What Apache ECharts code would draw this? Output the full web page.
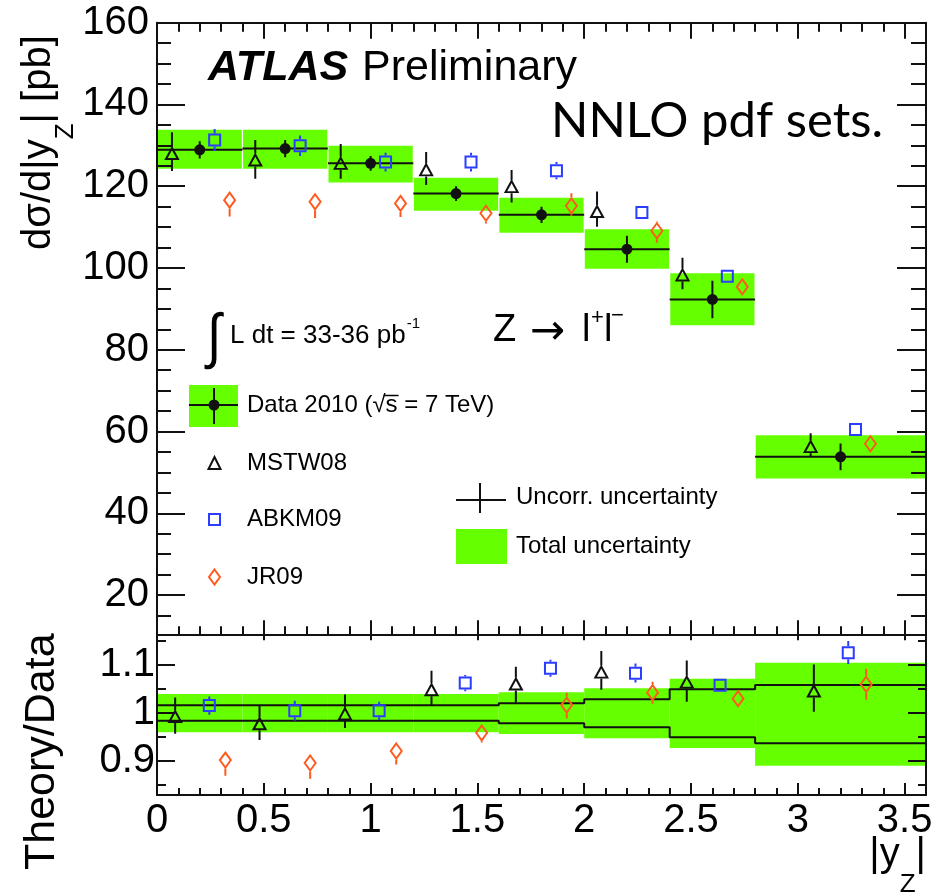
<!DOCTYPE html>
<html>
<head>
<meta charset="utf-8">
<title>Z rapidity cross section</title>
<script src="https://cdn.jsdelivr.net/npm/echarts@6/dist/echarts.min.js"></script>
<style>
  html, body { margin: 0; padding: 0; background: #fff; }
  #chart { width: 944px; height: 893px; }
</style>
</head>
<body>
<div id="chart"></div>
<script>
// ---- bins in |y_Z| ----
const binLow  = [0.0, 0.4, 0.8, 1.2, 1.6, 2.0, 2.4, 2.8];
const binHigh = [0.4, 0.8, 1.2, 1.6, 2.0, 2.4, 2.8, 3.6];

// ---- measured dσ/d|y_Z| [pb] ----
const dataXsec    = [128.9, 129.2, 125.6, 118.2, 113.0, 104.6, 92.3, 53.8];
const dataUncorr  = [2.1, 2.1, 1.8, 1.8, 2.0, 3.3, 4.6, 3.3];
const dataTotalLo = [124.3, 124.3, 120.9, 114.0, 108.6, 99.8, 86.0, 48.5];
const dataTotalHi = [133.8, 133.8, 129.9, 122.1, 117.2, 109.5, 98.7, 59.1];

// ---- NNLO predictions, cross section panel ----
const mstwPos  = [0.07, 0.46, 0.86, 1.26, 1.66, 2.06, 2.46, 3.06];
const mstwXsec = [128.0, 126.4, 125.6, 124.0, 119.9, 113.8, 98.3, 56.3];
const mstwHi   = [133.2, 131.3, 130.3, 128.4, 124.0, 118.7, 102.5, 59.6];
const mstwLo   = [123.7, 121.8, 121.8, 120.3, 116.0, 110.1, 94.8, 53.8];

const abkmPos  = [0.27, 0.67, 1.07, 1.47, 1.87, 2.27, 2.67, 3.27];
const abkmXsec = [131.3, 129.9, 125.9, 125.9, 123.8, 113.6, 98.0, 60.5];
const abkmHi   = [134.0, 132.4, 128.2, 128.2, 125.9, 115.1, 99.5, 61.8];
const abkmLo   = [128.6, 127.4, 123.6, 123.6, 121.7, 112.1, 96.5, 59.2];

const jrPos  = [0.34, 0.74, 1.14, 1.54, 1.94, 2.34, 2.74, 3.34];
const jrXsec = [116.6, 116.2, 115.8, 113.4, 115.2, 109.1, 95.4, 57.0];
const jrHi   = [118.1, 117.7, 117.3, 114.9, 118.3, 111.4, 97.4, 59.0];
const jrLo   = [112.6, 112.2, 112.5, 110.9, 112.8, 106.2, 93.4, 55.0];

// ---- Theory/Data ratio panel ----
const ratioTotalHi = [1.039, 1.039, 1.039, 1.039, 1.0426, 1.051, 1.071, 1.1047];
const ratioTotalLo = [0.959, 0.959, 0.959, 0.959, 0.9557, 0.9467, 0.9265, 0.889];
const ratioUncorrHi = [1.0157, 1.0157, 1.0157, 1.0157, 1.0199, 1.028, 1.049, 1.058];
const ratioUncorrLo = [0.9835, 0.9835, 0.9835, 0.9835, 0.978, 0.9697, 0.9488, 0.936];

const mstwRatioPos = [0.085, 0.48, 0.88, 1.285, 1.68, 2.08, 2.48, 3.075];
const mstwRatio    = [0.992, 0.977, 0.9975, 1.048, 1.060, 1.085, 1.064, 1.0455];
const mstwRatioHi  = [1.032, 1.014, 1.038, 1.088, 1.096, 1.129, 1.109, 1.101];
const mstwRatioLo  = [0.956, 0.943, 0.968, 1.016, 1.021, 1.048, 1.023, 1.002];

const abkmRatioPos = [0.245, 0.645, 1.04, 1.443, 1.842, 2.24, 2.636, 3.236];
const abkmRatio    = [1.015, 1.004, 1.004, 1.062, 1.093, 1.0826, 1.0575, 1.1256];
const abkmRatioHi  = [1.034, 1.025, 1.023, 1.079, 1.111, 1.103, 1.070, 1.150];
const abkmRatioLo  = [0.996, 0.983, 0.985, 1.045, 1.075, 1.063, 1.045, 1.102];

const jrRatioPos = [0.32, 0.717, 1.12, 1.52, 1.918, 2.32, 2.72, 3.32];
const jrRatio    = [0.901, 0.895, 0.920, 0.958, 1.016, 1.042, 1.0295, 1.0596];
const jrRatioHi  = [0.913, 0.907, 0.932, 0.970, 1.042, 1.065, 1.045, 1.092];
const jrRatioLo  = [0.868, 0.862, 0.892, 0.938, 0.988, 1.019, 1.015, 1.027];

// ---- axis ticks and labels ----
const xMajorTicks = [0, 0.5, 1, 1.5, 2, 2.5, 3, 3.5];
const xMinorTicks = [0.1, 0.2, 0.3, 0.4, 0.6, 0.7, 0.8, 0.9, 1.1, 1.2, 1.3, 1.4,
                     1.6, 1.7, 1.8, 1.9, 2.1, 2.2, 2.3, 2.4, 2.6, 2.7, 2.8, 2.9,
                     3.1, 3.2, 3.3, 3.4];
const xTickLabels = [0, 0.5, 1, 1.5, 2, 2.5, 3, 3.5];
const xsecMajorTicks = [20, 40, 60, 80, 100, 120, 140, 160];
const xsecMinorTicks = [15, 25, 30, 35, 45, 50, 55, 65, 70, 75, 85, 90, 95,
                        105, 110, 115, 125, 130, 135, 145, 150, 155];
const xsecTickLabels = [20, 40, 60, 80, 100, 120, 140, 160];
const ratioMajorTicks = [0.9, 1.0, 1.1];
const ratioMinorTicks = [0.85, 0.95, 1.05, 1.15];
const ratioTickLabels = [0.9, 1.0, 1.1];

// ---- styling ----
const INK = '#111';
const GREEN = '#66ff00';
const BLUE = '#2b3dff';
const ORANGE = '#ff5a1e';
const SANS = '"Liberation Sans", Arial, Helvetica, sans-serif';

const X_RANGE = [0, 3.6];
const XSEC_RANGE = [10.4, 160];
const RATIO_RANGE = [0.828, 1.164];

// one axis = one side of a frame; separate axes carry the short minor ticks
function axis(o) {
  return {
    type: 'value', gridIndex: o.grid, position: o.pos,
    min: o.range[0], max: o.range[1],
    silent: true, z: 8,
    splitLine: { show: false },
    minorTick: { show: false },
    minorSplitLine: { show: false },
    axisPointer: { show: false },
    axisLine: { show: !!o.line, onZero: false, lineStyle: { color: INK, width: 2 } },
    axisTick: { show: true, inside: true, length: o.len, customValues: o.ticks,
                lineStyle: { color: INK, width: 2 } },
    axisLabel: o.labels
      ? { show: true, customValues: o.labels, color: '#000', fontFamily: SANS,
          fontSize: 40, margin: o.margin }
      : { show: false }
  };
}

const xAxes = [
  axis({ grid: 0, pos: 'bottom', range: X_RANGE, ticks: xMajorTicks, len: 14, line: true }), // 0
  axis({ grid: 0, pos: 'bottom', range: X_RANGE, ticks: xMinorTicks, len: 8 }),               // 1
  axis({ grid: 0, pos: 'top', range: X_RANGE, ticks: xMajorTicks, len: 16, line: true }),    // 2
  axis({ grid: 0, pos: 'top', range: X_RANGE, ticks: xMinorTicks, len: 9 }),                 // 3
  axis({ grid: 1, pos: 'bottom', range: X_RANGE, ticks: xMajorTicks, len: 12, line: true,
         labels: xTickLabels, margin: 6 }),                                                   // 4
  axis({ grid: 1, pos: 'bottom', range: X_RANGE, ticks: xMinorTicks, len: 7 }),               // 5
  axis({ grid: 1, pos: 'top', range: X_RANGE, ticks: xMajorTicks, len: 6, line: true })      // 6
];
const yAxes = [
  axis({ grid: 0, pos: 'left', range: XSEC_RANGE, ticks: xsecMajorTicks, len: 28, line: true,
         labels: xsecTickLabels, margin: 8 }),                                                // 0
  axis({ grid: 0, pos: 'left', range: XSEC_RANGE, ticks: xsecMinorTicks, len: 14 }),          // 1
  axis({ grid: 0, pos: 'right', range: XSEC_RANGE, ticks: xsecMajorTicks, len: 29, line: true }), // 2
  axis({ grid: 0, pos: 'right', range: XSEC_RANGE, ticks: xsecMinorTicks, len: 15 }),         // 3
  axis({ grid: 1, pos: 'left', range: RATIO_RANGE, ticks: ratioMajorTicks, len: 18, line: true,
         labels: ratioTickLabels, margin: 2 }),                                               // 4
  axis({ grid: 1, pos: 'left', range: RATIO_RANGE, ticks: ratioMinorTicks, len: 9 }),         // 5
  axis({ grid: 1, pos: 'right', range: RATIO_RANGE, ticks: ratioMajorTicks, len: 18, line: true }), // 6
  axis({ grid: 1, pos: 'right', range: RATIO_RANGE, ticks: ratioMinorTicks, len: 8 })         // 7
];

const TOP = { xAxisIndex: 0, yAxisIndex: 0 };
const BOT = { xAxisIndex: 4, yAxisIndex: 4 };

// green total-uncertainty boxes, one per bin
function bandSeries(axes, lo, hi, inset) {
  return Object.assign({
    type: 'custom', coordinateSystem: 'cartesian2d', clip: true, silent: true, z: 1,
    data: binLow.map((l, i) => [l, binHigh[i], lo[i], hi[i]]),
    encode: { x: [0, 1], y: [2, 3] },
    renderItem: (params, api) => {
      const a = api.coord([api.value(0), api.value(3)]);
      const b = api.coord([api.value(1), api.value(2)]);
      return {
        type: 'rect',
        shape: { x: a[0] + inset, y: a[1], width: b[0] - a[0] - 2 * inset, height: b[1] - a[1] },
        style: { fill: GREEN }
      };
    }
  }, axes);
}

// vertical error bars that stop at the marker outline
function errorSeries(axes, xs, vals, los, his, color, gap) {
  return Object.assign({
    type: 'custom', coordinateSystem: 'cartesian2d', clip: true, silent: true, z: 4,
    data: xs.map((x, i) => [x, vals[i], los[i], his[i]]),
    encode: { x: 0, y: [1, 2, 3] },
    renderItem: (params, api) => {
      const c = api.coord([api.value(0), api.value(1)]);
      const lo = api.coord([api.value(0), api.value(2)]);
      const hi = api.coord([api.value(0), api.value(3)]);
      const kids = [];
      if (hi[1] < c[1] - gap) {
        kids.push({ type: 'line', shape: { x1: c[0], y1: hi[1], x2: c[0], y2: c[1] - gap },
                    style: { stroke: color, lineWidth: 2 } });
      }
      if (lo[1] > c[1] + gap) {
        kids.push({ type: 'line', shape: { x1: c[0], y1: c[1] + gap, x2: c[0], y2: lo[1] },
                    style: { stroke: color, lineWidth: 2 } });
      }
      return { type: 'group', children: kids };
    }
  }, axes);
}

function markerSeries(axes, name, xs, vals, symbol, size, color, filled) {
  return Object.assign({
    type: 'scatter', name, silent: true, z: 6,
    data: xs.map((x, i) => [x, vals[i]]),
    symbol, symbolSize: size,
    itemStyle: filled
      ? { color: color, borderWidth: 0, opacity: 1 }
      : { color: 'rgba(0,0,0,0)', borderColor: color, borderWidth: 2, opacity: 1 }
  }, axes);
}

// data: horizontal bin-width line plus uncorrelated error bar
const dataBars = Object.assign({
  type: 'custom', coordinateSystem: 'cartesian2d', clip: true, silent: true, z: 3,
  data: binLow.map((l, i) => [l, binHigh[i], dataXsec[i], dataXsec[i] - dataUncorr[i], dataXsec[i] + dataUncorr[i]]),
  encode: { x: [0, 1], y: [2, 3, 4] },
  renderItem: (params, api) => {
    const l = api.coord([api.value(0), api.value(2)]);
    const r = api.coord([api.value(1), api.value(2)]);
    const cx = (api.value(0) + api.value(1)) / 2;
    const lo = api.coord([cx, api.value(3)]);
    const hi = api.coord([cx, api.value(4)]);
    return {
      type: 'group', children: [
        { type: 'line', shape: { x1: l[0], y1: l[1], x2: r[0], y2: r[1] }, style: { stroke: INK, lineWidth: 2 } },
        { type: 'line', shape: { x1: lo[0], y1: lo[1], x2: hi[0], y2: hi[1] }, style: { stroke: INK, lineWidth: 2 } }
      ]
    };
  }
}, TOP);

function stepPoints(vals) {
  const pts = binLow.map((l, i) => [l, vals[i]]);
  pts.push([binHigh[binHigh.length - 1], vals[vals.length - 1]]);
  return pts;
}
function stepLine(vals) {
  return Object.assign({
    type: 'line', step: 'end', silent: true, z: 2, symbol: 'none', clip: true,
    data: stepPoints(vals), lineStyle: { color: INK, width: 2 }
  }, BOT);
}

const binCentre = binLow.map((l, i) => (l + binHigh[i]) / 2);

const series = [
  bandSeries(TOP, dataTotalLo, dataTotalHi, 0.6),
  dataBars,
  markerSeries(TOP, 'Data 2010', binCentre, dataXsec, 'circle', 11, INK, true),
  errorSeries(TOP, mstwPos, mstwXsec, mstwLo, mstwHi, INK, 6.5),
  errorSeries(TOP, abkmPos, abkmXsec, abkmLo, abkmHi, BLUE, 6.5),
  errorSeries(TOP, jrPos, jrXsec, jrLo, jrHi, ORANGE, 8.5),
  markerSeries(TOP, 'MSTW08', mstwPos, mstwXsec, 'triangle', [12, 11], INK, false),
  markerSeries(TOP, 'ABKM09', abkmPos, abkmXsec, 'rect', 11, BLUE, false),
  markerSeries(TOP, 'JR09', jrPos, jrXsec, 'diamond', [11, 15], ORANGE, false),

  bandSeries(BOT, ratioTotalLo, ratioTotalHi, 0),
  stepLine(ratioUncorrHi),
  stepLine(ratioUncorrLo),
  errorSeries(BOT, mstwRatioPos, mstwRatio, mstwRatioLo, mstwRatioHi, INK, 6.5),
  errorSeries(BOT, abkmRatioPos, abkmRatio, abkmRatioLo, abkmRatioHi, BLUE, 6.5),
  errorSeries(BOT, jrRatioPos, jrRatio, jrRatioLo, jrRatioHi, ORANGE, 8.5),
  markerSeries(BOT, 'MSTW08 ratio', mstwRatioPos, mstwRatio, 'triangle', [12, 11], INK, false),
  markerSeries(BOT, 'ABKM09 ratio', abkmRatioPos, abkmRatio, 'rect', 11, BLUE, false),
  markerSeries(BOT, 'JR09 ratio', jrRatioPos, jrRatio, 'diamond', [11, 15], ORANGE, false)
];

// ---- text helpers for annotations ----
const measureCtx = document.createElement('canvas').getContext('2d');
function textWidth(str, font) { measureCtx.font = font; return measureCtx.measureText(str).width; }
function txt(x, y, text, font, align, fill) {
  return {
    type: 'text', x, y, silent: true, z: 20,
    style: { text, font, fill: fill || '#000',
             align: align || 'left', verticalAlign: 'middle',
             textAlign: align || 'left', textVerticalAlign: 'middle' }
  };
}
// lay out runs of differently sized text left to right from (x0, y0)
function runs(x0, y0, parts) {
  let x = x0;
  const out = [];
  parts.forEach(p => {
    out.push(txt(x, y0 + (p.dy || 0), p.t, p.font));
    x += textWidth(p.t, p.font) + (p.gap || 0);
  });
  return { children: out, end: x };
}
function lineEl(x1, y1, x2, y2, color, w) {
  return { type: 'line', silent: true, z: 20, shape: { x1, y1, x2, y2 },
           style: { stroke: color || INK, lineWidth: w || 2 } };
}

const G = [];
// headline labels
G.push(txt(208, 68, 'ATLAS', `italic bold 43px ${SANS}`));
G.push(txt(362, 68, 'Preliminary', `43px ${SANS}`));
G.push(txt(551, 121.5, 'NNLO pdf sets.', `49px Lato, ${SANS}`));

// integrated luminosity
G.push(Object.assign(txt(214, 339, '∫', `italic 40px ${SANS}`, 'center'), { scaleX: 1.3, scaleY: 1.5 }));
const lumiFont = `26px ${SANS}`;
G.push(txt(230, 336, 'L dt = 33-36 pb', lumiFont));
G.push(txt(230 + textWidth('L dt = 33-36 pb', lumiFont) + 1, 324, '-1', `15px ${SANS}`));

// process label
G.push(txt(493, 331, 'Z', `38px ${SANS}`));
G.push(txt(530, 333, '→', `42px "DejaVu Sans"`));
G.push(txt(582, 331, 'l', `38px ${SANS}`));
G.push(txt(591, 318, '+', `22px ${SANS}`));
G.push(txt(604, 331, 'l', `38px ${SANS}`));
G.push(txt(611, 316, '−', `22px ${SANS}`));

// legend: data
const legFont = `24px ${SANS}`;
G.push({ type: 'rect', silent: true, z: 19, shape: { x: 189, y: 385, width: 49, height: 42 }, style: { fill: GREEN } });
G.push(lineEl(189, 405, 238, 405));
G.push(lineEl(214, 388, 214, 424));
G.push({ type: 'circle', silent: true, z: 20, shape: { cx: 214, cy: 405, r: 5.5 }, style: { fill: INK } });
const dataLeg = runs(247, 405, [
  { t: 'Data 2010 (', font: legFont },
  { t: '√', font: legFont },
  { t: 's', font: legFont },
  { t: ' = 7 TeV)', font: legFont }
]);
dataLeg.children.forEach(c => G.push(c));
{
  const sx = 247 + textWidth('Data 2010 (√', legFont);
  G.push(lineEl(sx - 2, 395.5, sx + textWidth('s', legFont) + 1, 395.5, '#000', 1.5));
}
// legend: predictions
G.push({ type: 'polygon', silent: true, z: 20, shape: { points: [[214.5, 457], [220.5, 469], [208.5, 469]] },
         style: { fill: 'none', stroke: INK, lineWidth: 2 } });
G.push(txt(247, 463, 'MSTW08', legFont));
G.push({ type: 'rect', silent: true, z: 20, shape: { x: 209, y: 514, width: 11, height: 11 },
         style: { fill: 'none', stroke: BLUE, lineWidth: 2 } });
G.push(txt(247, 519, 'ABKM09', legFont));
G.push({ type: 'polygon', silent: true, z: 20, shape: { points: [[214.5, 569.5], [220, 577], [214.5, 584.5], [209, 577]] },
         style: { fill: 'none', stroke: ORANGE, lineWidth: 2 } });
G.push(txt(247, 577, 'JR09', legFont));
// legend: uncertainty styles
G.push(lineEl(456, 500, 506, 500));
G.push(lineEl(480, 483, 480, 513));
G.push(txt(516, 497, 'Uncorr. uncertainty', legFont));
G.push({ type: 'rect', silent: true, z: 19, shape: { x: 456, y: 529, width: 51, height: 35 }, style: { fill: GREEN } });
G.push(txt(516, 546, 'Total uncertainty', legFont));

// axis titles
{
  const big = `40px ${SANS}`, sub = `26px ${SANS}`;
  const r = runs(0, 0, [
    { t: 'dσ/d|y', font: big },
    { t: 'Z', font: sub, dy: 27 },
    { t: '| [pb]', font: big }
  ]);
  G.push({ type: 'group', x: 39, y: 250, rotation: Math.PI / 2, children: r.children });
}
G.push({ type: 'group', x: 42.5, y: 870, rotation: Math.PI / 2,
         children: [txt(0, 0, 'Theory/Data', `43px ${SANS}`)] });
{
  const big = `40px ${SANS}`, sub = `26px ${SANS}`;
  const parts = [
    { t: '|y', font: big },
    { t: 'Z', font: sub, dy: 30 },
    { t: '|', font: big }
  ];
  const w = parts.reduce((s, p) => s + textWidth(p.t, p.font), 0);
  runs(926 - w, 855, parts).children.forEach(c => G.push(c));
}

const option = {
  animation: false,
  backgroundColor: '#ffffff',
  grid: [
    { left: 157, top: 22.7, width: 769, height: 611.6, containLabel: false, outerBoundsMode: 'none' },
    { left: 157, top: 634.3, width: 769, height: 160.7, containLabel: false, outerBoundsMode: 'none' }
  ],
  xAxis: xAxes,
  yAxis: yAxes,
  series,
  graphic: { elements: G }
};

const chart = echarts.init(document.getElementById('chart'), null, { renderer: 'canvas', width: 944, height: 893 });
chart.setOption(option);
</script>
</body>
</html>
